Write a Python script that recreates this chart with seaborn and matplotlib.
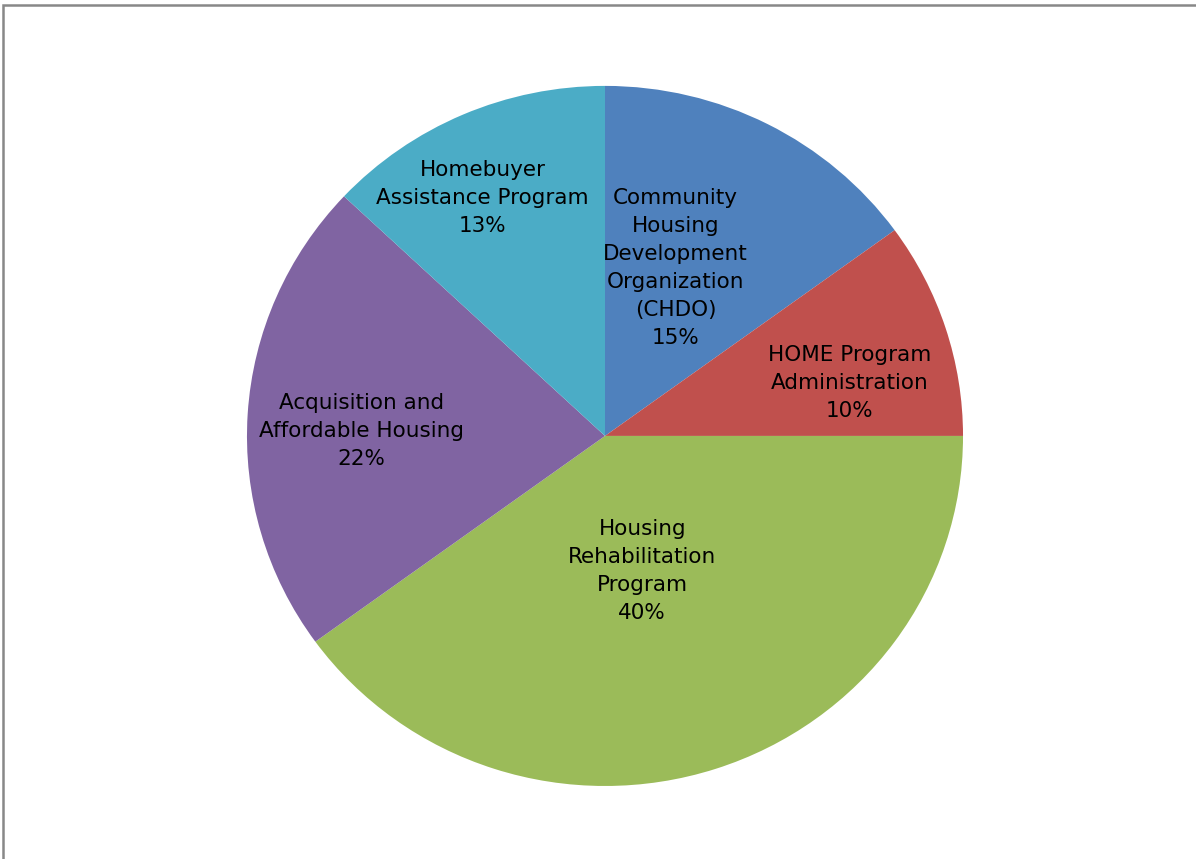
import matplotlib
matplotlib.use("Agg")
import matplotlib.pyplot as plt
import seaborn as sns
import numpy as np
from matplotlib.patches import Rectangle

categories = [
    "Community\nHousing\nDevelopment\nOrganization\n(CHDO)",
    "HOME Program\nAdministration",
    "Housing\nRehabilitation\nProgram",
    "Acquisition and\nAffordable Housing",
    "Homebuyer\nAssistance Program",
]
values = [15, 10, 40, 22, 13]
colors = ["#4F81BD", "#C0504D", "#9BBB59", "#8064A2", "#4BACC6"]

# label placement (radius fraction, angle in degrees)
label_r = [0.52, 0.70, 0.40, 0.68, 0.76]
label_ang = [67.7, 12.4, -74.9, 178.8, 116.7]

sns.set_theme(style="white")
plt.rcParams["font.family"] = ["DejaVu Sans"]

fig = plt.figure(figsize=(11.96, 8.59), dpi=100)
ax = fig.add_axes([0.2065, 0.085, 0.5987, 0.815])

wedges, _ = ax.pie(values, colors=colors, startangle=90, counterclock=False,
                   radius=1.0, wedgeprops=dict(linewidth=0))
ax.set_aspect("auto")
ax.set_xlim(-1, 1)
ax.set_ylim(-1, 1)
ax.axis("off")

for cat, v, r, a in zip(categories, values, label_r, label_ang):
    t = np.deg2rad(a)
    ax.text(r * np.cos(t), r * np.sin(t), f"{cat}\n{v}%", ha="center", va="center",
            fontsize=15.5, color="#000000", linespacing=1.5)

fig.add_artist(Rectangle((2.5 / 1196, -0.1), 1.2, 1.1 - 5 / 859, transform=fig.transFigure,
                         fill=False, edgecolor="#888888", linewidth=1.8))

fig.savefig("out.png", dpi=100)
